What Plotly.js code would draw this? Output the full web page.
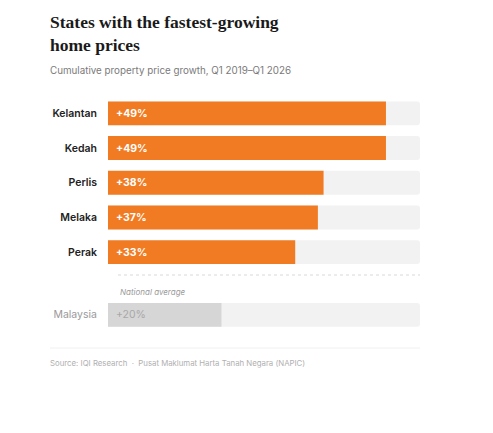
<!DOCTYPE html>
<html>
<head>
<meta charset="utf-8">
<script src="https://cdn.plot.ly/plotly-3.0.1.min.js"></script>
<style>html,body{margin:0;padding:0;background:#fff;}#chart{width:493px;height:433px;}</style>
</head>
<body>
<div id="chart"></div>
<script>
const states = ["Kelantan", "Kedah", "Perlis", "Melaka", "Perak"];
const stateGrowth = [49, 49, 38, 37, 33];
const nationalLabel = ["Malaysia"];
const nationalGrowth = [20];
const trackMax = 55;

const fmt = v => "+" + v + "%";
const orange = "#F07B22";

const traces = [
  {type: "bar", orientation: "h", y: states, x: states.map(() => trackMax),
   marker: {color: "#F2F2F2"}, hoverinfo: "skip", xaxis: "x", yaxis: "y"},
  {type: "bar", orientation: "h", y: states, x: stateGrowth,
   marker: {color: orange}, hoverinfo: "skip", xaxis: "x", yaxis: "y"},
  {type: "bar", orientation: "h", y: nationalLabel, x: [trackMax],
   marker: {color: "#F2F2F2"}, hoverinfo: "skip", xaxis: "x2", yaxis: "y2"},
  {type: "bar", orientation: "h", y: nationalLabel, x: nationalGrowth,
   marker: {color: "#D6D6D6"}, hoverinfo: "skip", xaxis: "x2", yaxis: "y2"}
];

const annotations = [];
states.forEach((s, i) => {
  annotations.push({x: 0, y: s, xref: "x", yref: "y", text: fmt(stateGrowth[i]),
    showarrow: false, xanchor: "left", xshift: 6,
    font: {family: "Inter, sans-serif", size: 10.5, color: "#fff", weight: 700}});
});
nationalLabel.forEach((s, i) => {
  annotations.push({x: 0, y: s, xref: "x2", yref: "y2", text: fmt(nationalGrowth[i]),
    showarrow: false, xanchor: "left", xshift: 6,
    font: {family: "Inter, sans-serif", size: 10.5, color: "#A8A8A8", weight: 400}});
});
annotations.push(
  {xref: "paper", yref: "paper", x: 0.032, y: 0.169, xanchor: "left", yanchor: "middle",
   text: "<i>National average</i>", showarrow: false,
   font: {family: "Inter, sans-serif", size: 8, color: "#9A9A9A"}},
  {xref: "paper", yref: "paper", x: -0.192, y: -0.131, xanchor: "left", yanchor: "middle",
   text: "Source: IQI Research  ·  Pusat Maklumat Harta Tanah Negara (NAPIC)", showarrow: false,
   font: {family: "Inter, sans-serif", size: 7.8, color: "#B0B0B0"}},
  {xref: "paper", yref: "paper", x: -0.192, y: 1.263, xanchor: "left", yanchor: "middle",
   text: "<b>States with the fastest-growing<br>home prices</b>", showarrow: false, align: "left",
   font: {family: "Liberation Serif, serif", size: 17.5, color: "#1a1a1a"}},
  {xref: "paper", yref: "paper", x: -0.192, y: 1.11, xanchor: "left", yanchor: "middle",
   text: "Cumulative property price growth, Q1 2019–Q1 2026", showarrow: false,
   font: {family: "Inter, sans-serif", size: 9.8, color: "#7A7A7A"}}
);

const layout = {
  width: 493, height: 433,
  margin: {l: 108, r: 73, t: 96, b: 101, pad: 0},
  paper_bgcolor: "#fff", plot_bgcolor: "#fff",
  showlegend: false,
  barmode: "overlay",
  bargap: 0.31,
  barcornerradius: 3,
  xaxis: {domain: [0, 1], range: [0, trackMax], visible: false, fixedrange: true},
  xaxis2: {domain: [0, 1], range: [0, trackMax], visible: false, anchor: "y2", fixedrange: true},
  yaxis: {domain: [0.265, 1], autorange: "reversed", showgrid: false, zeroline: false,
    showline: false, ticks: "", ticklabelstandoff: 10,
    tickfont: {family: "Inter, sans-serif", size: 10.5, color: "#222", weight: 600}},
  yaxis2: {domain: [0, 0.146], anchor: "x2", showgrid: false, zeroline: false,
    showline: false, ticks: "", ticklabelstandoff: 10,
    tickfont: {family: "Inter, sans-serif", size: 10.5, color: "#9A9A9A", weight: 400}},
  shapes: [
    {type: "line", xref: "paper", yref: "paper", x0: 0.032, x1: 1, y0: 0.2415, y1: 0.2415,
     line: {color: "#D8D8D8", width: 1, dash: "dot"}},
    {type: "line", xref: "paper", yref: "paper", x0: -0.186, x1: 1, y0: -0.068, y1: -0.068,
     line: {color: "#F0F0F0", width: 1}}
  ],
  annotations: annotations
};

Plotly.newPlot("chart", traces, layout, {displayModeBar: false, staticPlot: true});
</script>
</body>
</html>
